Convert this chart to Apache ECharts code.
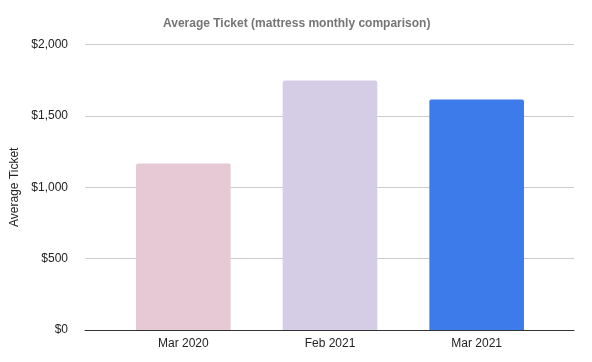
<!DOCTYPE html>
<html><head><meta charset="utf-8">
<script src="https://cdn.jsdelivr.net/npm/echarts@6/dist/echarts.min.js"></script>
<style>html,body{margin:0;padding:0;background:#fff}#c{width:592px;height:362px}</style>
</head><body><div id="c"></div>
<script>
const categories = ['Mar 2020', 'Feb 2021', 'Mar 2021'];
const values = [1166, 1748, 1615];
const barColors = ['#e6c9d5', '#d5cde5', '#3c7be9'];
const yMin = 0, yMax = 2000, yInterval = 500;

const chart = echarts.init(document.getElementById('c'));
const font = 'Liberation Sans, Arial, sans-serif';
chart.setOption({
  animation: false,
  title: {
    text: 'Average Ticket (mattress monthly comparison)',
    left: 158, top: 13,
    textStyle: {fontFamily: font, fontSize: 12, fontWeight: 'bold', color: '#757575'}
  },
  grid: [
    {left: 85, right: 18, top: 44.5, bottom: 32, containLabel: false},
    {left: 110, right: 42, top: 44.5, bottom: 32, containLabel: false}
  ],
  xAxis: [
    {gridIndex: 0, type: 'value', min: 0, max: 1, show: true,
     axisLine: {show: true, onZero: false, lineStyle: {color: '#333', width: 1}},
     axisTick: {show: false}, axisLabel: {show: false}, splitLine: {show: false}},
    {gridIndex: 1, type: 'category', data: categories,
     axisLine: {show: false}, axisTick: {show: false},
     axisLabel: {fontFamily: font, fontSize: 12, color: '#222', margin: 8}}
  ],
  yAxis: [
    {gridIndex: 0, type: 'value', min: yMin, max: yMax, interval: yInterval,
     name: 'Average Ticket', nameLocation: 'middle', nameGap: 60, nameRotate: 90,
     nameTextStyle: {fontFamily: font, fontSize: 12, color: '#222'},
     axisLine: {show: false}, axisTick: {show: false},
     axisLabel: {fontFamily: font, fontSize: 12, color: '#222', margin: 17,
       formatter: v => '$' + v.toLocaleString('en-US')},
     splitLine: {lineStyle: {color: '#cccccc', width: 1}}},
    {gridIndex: 1, type: 'value', min: yMin, max: yMax, interval: yInterval, show: false,
     splitLine: {show: false}}
  ],
  series: [{
    type: 'bar', xAxisIndex: 1, yAxisIndex: 1,
    data: values.map((v, i) => ({value: v, itemStyle: {color: barColors[i]}})),
    barWidth: '64.5%',
    itemStyle: {borderRadius: [2, 2, 0, 0]},
    z: 1
  }]
});
</script></body></html>
